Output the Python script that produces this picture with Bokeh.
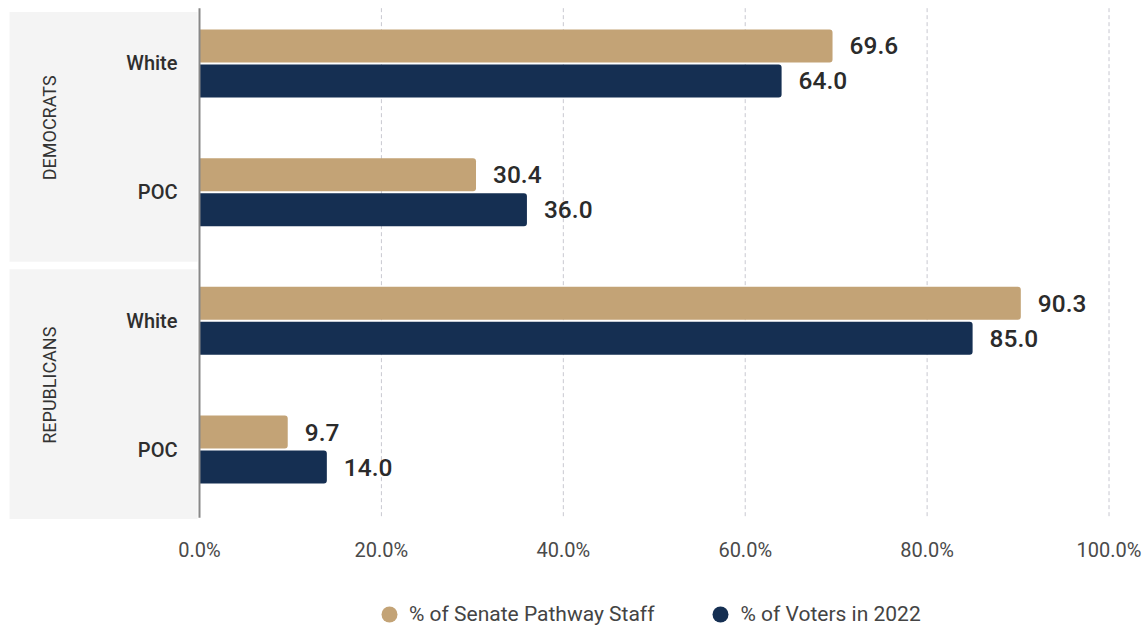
import math
from bokeh.plotting import figure
from bokeh.models import (Range1d, FixedTicker, Legend, LegendItem,
                          ColumnDataSource)
from bokeh.core.properties import value
from bokeh.embed import file_html
from bokeh.resources import INLINE

# ---- data ----
groups = ["DEMOCRATS", "REPUBLICANS"]
categories = ["White", "POC", "White", "POC"]
category_groups = ["DEMOCRATS", "DEMOCRATS", "REPUBLICANS", "REPUBLICANS"]
staff_pct = [69.6, 30.4, 90.3, 9.7]
voters_pct = [64.0, 36.0, 85.0, 14.0]
series_names = ["% of Senate Pathway Staff", "% of Voters in 2022"]
tick_values = [0, 20, 40, 60, 80, 100]
tick_labels = ["0.0%", "20.0%", "40.0%", "60.0%", "80.0%", "100.0%"]

TAN = "#C3A376"
NAVY = "#152F52"
FONT = value("Roboto")
FONT_MED = value("Roboto Medium")

pos = list(range(len(categories)))
bar_h = 0.256
off = 0.136
band_pad_top = 0.40
band_pad_bottom = 0.54

p = figure(width=1145, height=628, output_backend="svg", toolbar_location=None,
           x_range=Range1d(-21.88, 104.01), y_range=Range1d(4.391, -0.4896),
           min_border_left=0, min_border_right=0, min_border_top=0,
           min_border_bottom=0)
p.outline_line_color = None
p.yaxis.visible = False
p.grid.visible = False

# grey group bands
g_first = [min(i for i, g in enumerate(category_groups) if g == grp) for grp in groups]
g_last = [max(i for i, g in enumerate(category_groups) if g == grp) for grp in groups]
band_src = ColumnDataSource(dict(
    left=[-20.89] * len(groups), right=[-0.22] * len(groups),
    top=[f - band_pad_top for f in g_first],
    bottom=[l + band_pad_bottom for l in g_last],
))
p.quad(left="left", right="right", top="top", bottom="bottom", source=band_src,
       fill_color="#F4F4F4", line_color=None)

y_top = min(g_first) - band_pad_top - 0.03
y_bot = max(g_last) + band_pad_bottom - 0.01

# dashed grid lines
grid_ticks = tick_values[1:]
p.segment(x0=grid_ticks, x1=grid_ticks, y0=[y_top] * len(grid_ticks),
          y1=[y_bot] * len(grid_ticks), line_color="#C8C8D0", line_dash="4 3",
          line_width=1)

# bars
src = ColumnDataSource(dict(
    y_staff=[y - off for y in pos], y_voters=[y + off for y in pos],
    staff=staff_pct, voters=voters_pct,
    staff_txt=[f"{v:.1f}" for v in staff_pct],
    voters_txt=[f"{v:.1f}" for v in voters_pct],
    cat=categories, ycat=pos,
))
p.hbar(y="y_staff", left=0, right="staff", height=bar_h, source=src,
       fill_color=TAN, line_color=None, border_radius=(0, 3, 3, 0))
p.hbar(y="y_voters", left=0, right="voters", height=bar_h, source=src,
       fill_color=NAVY, line_color=None, border_radius=(0, 3, 3, 0))

# vertical axis line at 0
p.segment(x0=[0], x1=[0], y0=[y_top], y1=[y_bot], line_color="#888888", line_width=2)

# value labels
for ycol, xcol, tcol in [("y_staff", "staff", "staff_txt"), ("y_voters", "voters", "voters_txt")]:
    p.text(x=xcol, y=ycol, text=tcol, source=src, x_offset=17,
           text_baseline="middle", text_align="left", text_font=FONT_MED,
           text_font_size="24.5px", text_color="#2B2B2B")

# category labels
p.text(x=0, y="ycat", text="cat", source=src, x_offset=-22, text_align="right",
       text_baseline="middle", text_font=FONT_MED, text_font_size="20px",
       text_color="#2E2E2E")

# group labels
gsrc = ColumnDataSource(dict(
    g=groups,
    y=[(f + l) / 2 for f, l in zip(g_first, g_last)],
))
p.text(x=0, y="y", text="g", source=gsrc, x_offset=-150, angle=math.pi / 2,
       text_align="center", text_baseline="middle", text_font=FONT,
       text_font_size="18px", text_color="#333333")

# x axis (drawn at the bottom of the bands)
p.xaxis.fixed_location = y_bot
p.xaxis.ticker = FixedTicker(ticks=tick_values)
p.xaxis.major_label_overrides = {t: l for t, l in zip(tick_values, tick_labels)}
p.xaxis.axis_line_color = None
p.xaxis.major_tick_line_color = None
p.xaxis.minor_tick_line_color = None
p.xaxis.major_label_standoff = 14
p.xaxis.major_label_text_font = "Roboto"
p.xaxis.major_label_text_font_size = "20px"
p.xaxis.major_label_text_color = "#4A4A4A"

# legend (zero-size markers on the bar data; the legend draws its own circles)
r1 = p.scatter(x="staff", y="y_staff", source=src, marker="circle", size=0,
               fill_color=TAN, line_color=None)
r2 = p.scatter(x="voters", y="y_voters", source=src, marker="circle", size=0,
               fill_color=NAVY, line_color=None)
legend = Legend(items=[LegendItem(label=series_names[0], renderers=[r1]),
                       LegendItem(label=series_names[1], renderers=[r2])],
                orientation="horizontal", location=(369, -6),
                glyph_width=40, glyph_height=40, label_standoff=0, spacing=46,
                padding=0, margin=0, border_line_color=None,
                background_fill_alpha=0, label_text_font="Roboto",
                label_text_font_size="21px", label_text_color="#444444")
p.add_layout(legend, "center")

open("out.html", "w").write(file_html(p, INLINE))
